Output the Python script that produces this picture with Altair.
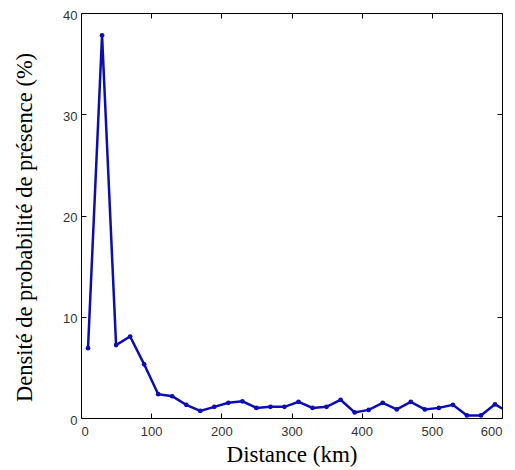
import altair as alt
import pandas as pd

distance = [10, 30, 50, 70, 90, 110, 130, 150, 170, 190, 210, 230, 250, 270, 290,
            310, 330, 350, 370, 390, 410, 430, 450, 470, 490, 510, 530, 550, 570, 590, 610]
density = [6.9, 37.8, 7.2, 8.05, 5.3, 2.35, 2.15, 1.3, 0.7, 1.1, 1.5, 1.65, 1.0, 1.1, 1.1,
           1.6, 1.0, 1.1, 1.8, 0.55, 0.8, 1.5, 0.85, 1.6, 0.85, 1.0, 1.3, 0.25, 0.25, 1.35, 0.55]
x_ticks = [0, 100, 200, 300, 400, 500, 600]
y_ticks = [0, 10, 20, 30, 40]

df = pd.DataFrame({"d": distance, "p": density})

COLOR = "#0c0cb4"
xs = alt.Scale(domain=[0, 600], nice=False, zero=False)
ys = alt.Scale(domain=[0, 40], nice=False)

base = alt.Chart(df)

lab = base.mark_line(color=COLOR, strokeWidth=2.5, clip=True).encode(
    x=alt.X("d:Q", scale=xs, title="Distance (km)",
            axis=alt.Axis(orient="bottom", values=x_ticks, ticks=False, domain=False, grid=False,
                          labelFont="Liberation Sans", labelFontSize=13, labelColor="#333",
                          labelPadding=7, titleFont="Liberation Serif", titleFontSize=23,
                          titleFontWeight="normal", titleColor="#000", titlePadding=5)),
    y=alt.Y("p:Q", scale=ys, title="Densité de probabilité de présence (%)",
            axis=alt.Axis(orient="left", values=y_ticks, ticks=False, domain=False, grid=False,
                          labelFont="Liberation Sans", labelFontSize=13, labelColor="#333",
                          labelPadding=4, labelOffset=2, titleFont="Liberation Serif",
                          titleFontSize=22.5, titleFontWeight="normal", titleColor="#000",
                          titlePadding=26, titleY=214)),
)

pts = base.mark_circle(color=COLOR, size=22, opacity=1, clip=True).encode(
    x=alt.X("d:Q", scale=xs, title=None,
            axis=alt.Axis(orient="bottom", values=x_ticks, labels=False, domain=False, grid=False,
                          ticks=True, tickSize=5, tickColor="#000", offset=-5)),
    y=alt.Y("p:Q", scale=ys, title=None,
            axis=alt.Axis(orient="left", values=y_ticks, labels=False, domain=False, grid=False,
                          ticks=True, tickSize=5, tickColor="#000", offset=-5)),
)

ghost = base.mark_line(opacity=0, clip=True).encode(
    x=alt.X("d:Q", scale=xs, title=None,
            axis=alt.Axis(orient="top", values=x_ticks, labels=False, domain=False, grid=False,
                          ticks=True, tickSize=5, tickColor="#000", offset=-5)),
    y=alt.Y("p:Q", scale=ys, title=None,
            axis=alt.Axis(orient="right", values=y_ticks, labels=False, domain=False, grid=False,
                          ticks=True, tickSize=5, tickColor="#000", offset=-5)),
)

chart = alt.layer(lab, pts, ghost).resolve_axis(x="independent", y="independent").properties(
    width=421, height=405,
    autosize=alt.AutoSizeParams(type="none"),
    padding={"left": 73, "top": 5, "right": 5, "bottom": 50},
).configure_view(stroke="#000", strokeWidth=1)

chart.save("out.html", embed_options={"renderer": "svg", "actions": False})
